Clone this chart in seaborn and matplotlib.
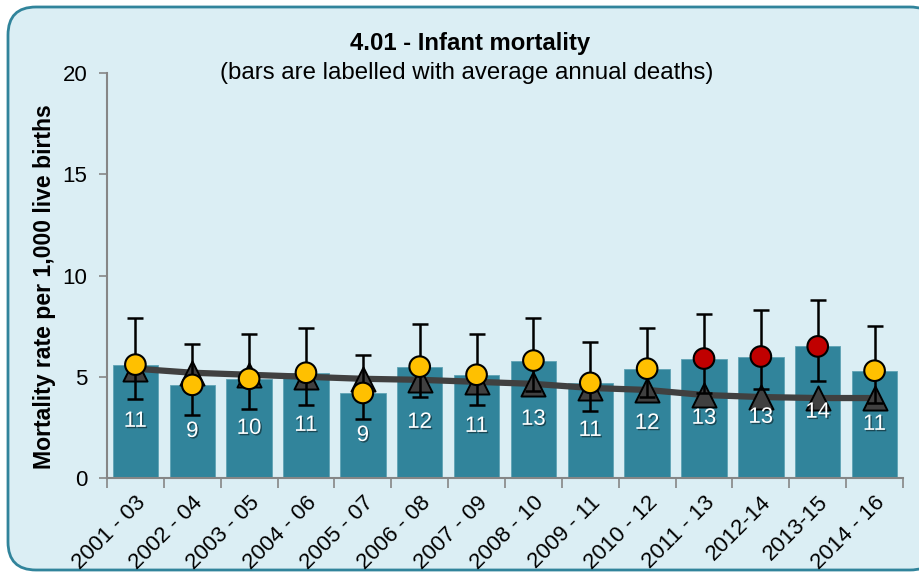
import numpy as np
import pandas as pd
import seaborn as sns
import matplotlib
matplotlib.use('Agg')
import matplotlib.pyplot as plt
import matplotlib.patheffects as pe
from matplotlib.patches import FancyBboxPatch

# data
periods = ['2001 - 03', '2002 - 04', '2003 - 05', '2004 - 06', '2005 - 07', '2006 - 08', '2007 - 09',
           '2008 - 10', '2009 - 11', '2010 - 12', '2011 - 13', '2012-14', '2013-15', '2014 - 16']
rate = [5.6, 4.6, 4.9, 5.2, 4.2, 5.5, 5.1, 5.8, 4.7, 5.4, 5.9, 6.0, 6.5, 5.3]
ci_low = [3.9, 3.1, 3.4, 3.6, 2.9, 4.0, 3.6, 4.3, 3.3, 4.0, 4.2, 4.4, 4.8, 3.7]
ci_high = [7.9, 6.6, 7.1, 7.4, 6.1, 7.6, 7.1, 7.9, 6.7, 7.4, 8.1, 8.3, 8.8, 7.5]
deaths = [11, 9, 10, 11, 9, 12, 11, 13, 11, 12, 13, 13, 14, 11]
england = [5.4, 5.2, 5.1, 5.0, 4.9, 4.85, 4.75, 4.65, 4.45, 4.35, 4.1, 4.0, 3.95, 3.95]
significant = [False] * 10 + [True, True, True, False]

df = pd.DataFrame({'period': periods, 'rate': rate, 'low': ci_low, 'high': ci_high,
                   'deaths': deaths, 'england': england, 'sig': significant})

sns.set_style('white')
plt.rcParams['font.family'] = ['Liberation Sans', 'DejaVu Sans']
plt.rcParams['text.color'] = 'black'
plt.rcParams['xtick.color'] = 'black'
plt.rcParams['ytick.color'] = 'black'
plt.rcParams['axes.labelcolor'] = 'black'

fig = plt.figure(figsize=(9.19, 5.72), dpi=100)
fig.patch.set_facecolor('white')

# rounded panel behind the chart
panel = FancyBboxPatch((0.08, 0.02), 9.3, 5.63, boxstyle='round,pad=0,rounding_size=0.28',
                       transform=fig.dpi_scale_trans, facecolor='#DBEEF4', edgecolor='#31849B',
                       linewidth=2, zorder=-5)
fig.patches.append(panel)

ax = fig.add_axes([0.1164, 0.1643, 0.8662, 0.708])
ax.set_zorder(2)
ax.set_facecolor('none')

sns.barplot(data=df, x='period', y='rate', color='#31849B', saturation=1, width=0.8,
            edgecolor='#5FA3B5', linewidth=0.6, ax=ax, zorder=1)

xs = np.arange(len(df))
ax.plot(xs, df['england'], color='#404040', lw=4.5, zorder=2, solid_capstyle='round')
ax.scatter(xs, df['england'], marker='^', s=300, color='#404040', edgecolor='black',
           linewidth=1.4, zorder=3)
ax.errorbar(xs, df['rate'], yerr=[df['rate'] - df['low'], df['high'] - df['rate']],
            fmt='none', ecolor='black', elinewidth=1.8, capsize=6, capthick=1.8, zorder=4)
dot_colors = np.where(df['sig'], '#C00000', '#FFC000')
ax.scatter(xs, df['rate'], s=220, c=dot_colors, edgecolor='black', linewidth=1.5, zorder=5)

for x, r, d in zip(xs, df['rate'], df['deaths']):
    ax.text(x, r / 2, str(d), ha='center', va='center', color='white', fontsize=16, zorder=6,
            path_effects=[pe.withSimplePatchShadow(offset=(1, -1), shadow_rgbFace='black', alpha=0.45)])

ax.set_xlim(-0.5, len(df) - 0.5)
ax.set_ylim(0, 20)
ax.set_yticks([0, 5, 10, 15, 20])
ax.set_xlabel('')
ax.set_ylabel('Mortality rate per 1,000 live births', fontsize=16.6, fontweight='bold', va='center')
ax.yaxis.set_label_coords(-0.078, 0.4716)

for side in ['top', 'right']:
    ax.spines[side].set_visible(False)
for side in ['left', 'bottom']:
    ax.spines[side].set_color('#868686')
    ax.spines[side].set_linewidth(1.5)

ax.tick_params(axis='y', length=6, width=1.2, color='#868686', labelsize=16, direction='out', left=True, pad=8)
ax.set_xticks(np.arange(-0.5, len(df)), minor=True)
ax.tick_params(axis='x', which='minor', length=7, width=1.2, color='#868686', direction='out', bottom=True)
ax.tick_params(axis='x', which='major', length=0, labelsize=16, pad=10)
plt.setp(ax.get_xticklabels(), rotation=45, ha='right', rotation_mode='anchor')

fig.text(0.511, 0.924, '4.01 - Infant mortality', ha='center', va='center', fontsize=17.2, fontweight='bold')
fig.text(0.508, 0.872, '(bars are labelled with average annual deaths)', ha='center', va='center', fontsize=17.3)

fig.savefig('out.png', dpi=100, facecolor='white')
